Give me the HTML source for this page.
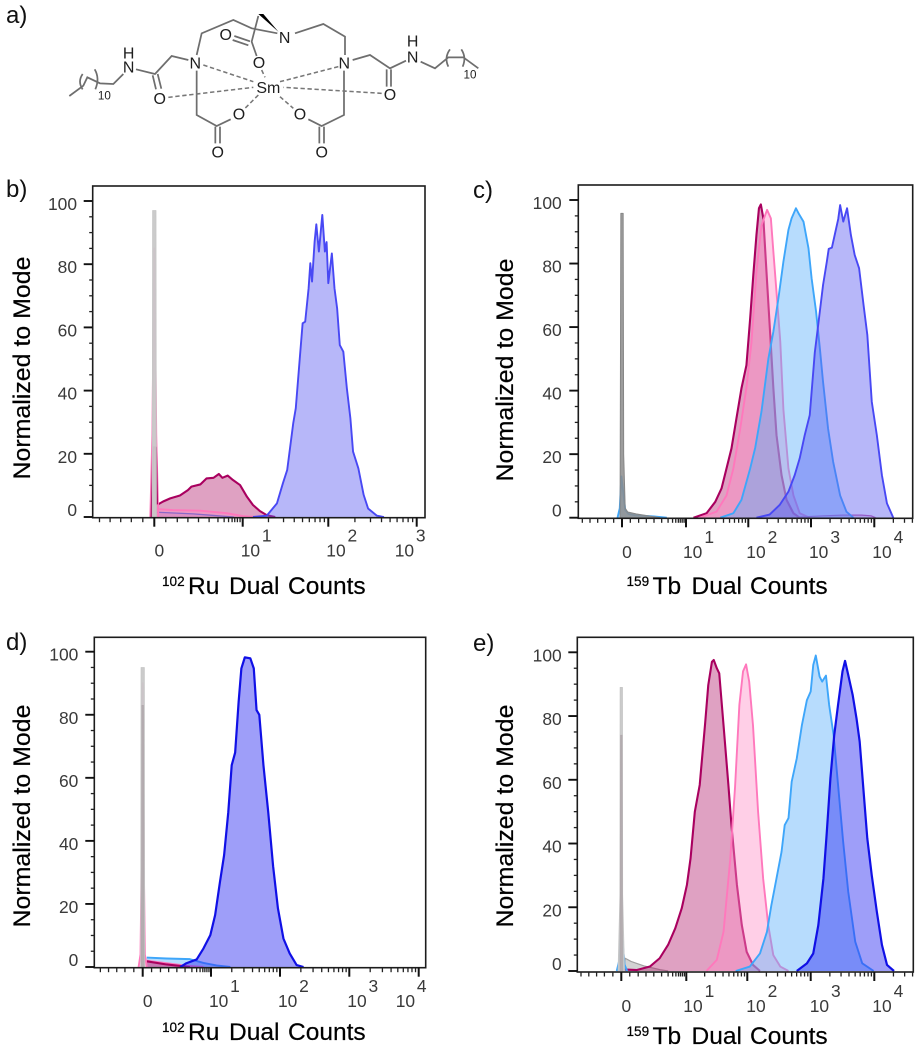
<!DOCTYPE html>
<html lang="en">
<head>
<meta charset="utf-8">
<title>Flow cytometry histograms</title>
<style>
html,body{margin:0;padding:0;background:#fff;width:921px;height:1050px;overflow:hidden}
#figure{display:block;filter:blur(.3px);font-family:"Liberation Sans",Arial,sans-serif}
.panel-letter{font-size:24px;fill:#111}
.axis-title{font-size:24.5px;fill:#000;stroke:#000;stroke-width:.2}
.sup-small{font-size:13.6px}
.tick-label{font-size:17.4px;fill:#3a3a3a}
.mol-bond{fill:none;stroke:#6e6e6e;stroke-width:5.2}
.mol-dash{fill:none;stroke:#777;stroke-width:4.6;stroke-dasharray:13 8}
.mol-atom{font-size:48px;fill:#1e1e1e;text-anchor:middle}
.mol-sub{font-size:35px;fill:#1e1e1e;text-anchor:middle}
</style>
</head>
<body>
<svg id="figure" xmlns="http://www.w3.org/2000/svg" width="921" height="1050" viewBox="0 0 921 1050">
  <rect x="0" y="0" width="921" height="1050" fill="#fff"/>

  <text class="panel-letter" x="6" y="23">a)</text>
  <text class="panel-letter" x="6" y="197">b)</text>
  <text class="panel-letter" x="473" y="198">c)</text>
  <text class="panel-letter" x="6" y="650">d)</text>
  <text class="panel-letter" x="473" y="651">e)</text>

  <g id="molecule" transform="scale(0.33333)">
    <polyline class="mol-bond" points="208,288 250,257 262,232 300,250 340,252 370,222"/>
    <path class="mol-bond" d="M248,222 Q232,245 248,268 M284,208 Q300,235 286,268"/>
    <polyline class="mol-bond" points="408,208 465,222 515,168 565,180"/>
    <path class="mol-bond" d="M458,226 L468,268 M473,222 L484,266"/>
    <polyline class="mol-bond" points="590,165 605,100 700,60 755,85 832,100"/>
    <polyline class="mol-bond" points="885,100 970,72 1035,110 1035,165"/>
    <polyline class="mol-bond" points="590,212 590,345 650,378 692,358"/>
    <path class="mol-bond" d="M646,380 L646,430 M660,380 L660,430"/>
    <polyline class="mol-bond" points="1032,212 1032,345 965,378 925,358"/>
    <path class="mol-bond" d="M958,380 L958,430 M972,380 L972,430"/>
    <path class="mol-bond" d="M775,48 L755,125 L770,168 M703,108 L750,124 M698,120 L745,136"/>
    <polygon points="775,42 790,42 836,96" fill="#000"/>
    <polyline class="mol-bond" points="1058,180 1110,165 1170,205 1218,182"/>
    <path class="mol-bond" d="M1160,208 L1160,260 M1173,208 L1173,260"/>
    <polyline class="mol-bond" points="1262,185 1305,205 1345,172 1390,172 1435,205"/>
    <path class="mol-bond" d="M1350,148 Q1332,172 1345,200 M1384,148 Q1400,172 1388,200"/>
    <path class="mol-dash" d="M610,195 L760,245 M1015,200 L840,245 M505,292 L760,262 M1145,280 L850,262 M775,285 L735,325 M840,290 L880,325 M785,210 L795,232"/>
    <text class="mol-atom" x="386" y="176">H</text>
    <text class="mol-atom" x="386" y="218">N</text>
    <text class="mol-atom" x="586" y="205">N</text>
    <text class="mol-atom" x="854" y="129">N</text>
    <text class="mol-atom" x="1033" y="205">N</text>
    <text class="mol-atom" x="1238" y="139">H</text>
    <text class="mol-atom" x="1238" y="187">N</text>
    <text class="mol-atom" x="677" y="120">O</text>
    <text class="mol-atom" x="777" y="204">O</text>
    <text class="mol-atom" x="479" y="312">O</text>
    <text class="mol-atom" x="1170" y="300">O</text>
    <text class="mol-atom" x="717" y="359">O</text>
    <text class="mol-atom" x="900" y="359">O</text>
    <text class="mol-atom" x="653" y="472">O</text>
    <text class="mol-atom" x="965" y="472">O</text>
    <text class="mol-atom" x="805" y="279">Sm</text>
    <text class="mol-sub" x="313" y="298">10</text>
    <text class="mol-sub" x="1410" y="235">10</text>
  </g>

  <g id="panel-b"></g>
  <g id="panel-c"></g>
  <g id="panel-d"></g>
  <g id="panel-e"></g>

  <text class="axis-title" transform="translate(30,368) rotate(-90)" text-anchor="middle" textLength="223" lengthAdjust="spacingAndGlyphs">Normalized to Mode</text>
  <text class="axis-title" transform="translate(513,370) rotate(-90)" text-anchor="middle" textLength="223" lengthAdjust="spacingAndGlyphs">Normalized to Mode</text>
  <text class="axis-title" transform="translate(30,816) rotate(-90)" text-anchor="middle" textLength="223" lengthAdjust="spacingAndGlyphs">Normalized to Mode</text>
  <text class="axis-title" transform="translate(513,816) rotate(-90)" text-anchor="middle" textLength="223" lengthAdjust="spacingAndGlyphs">Normalized to Mode</text>

  <text class="axis-title" y="594"><tspan class="sup-small" x="162" y="586">102</tspan><tspan x="188" y="594">Ru</tspan><tspan x="229" y="594">Dual</tspan><tspan x="288" y="594">Counts</tspan></text>
  <text class="axis-title" y="594"><tspan class="sup-small" x="626.5" y="586">159</tspan><tspan x="652.5" y="594">Tb</tspan><tspan x="691.5" y="594">Dual</tspan><tspan x="750" y="594">Counts</tspan></text>
  <text class="axis-title" y="1040"><tspan class="sup-small" x="162" y="1032">102</tspan><tspan x="188" y="1040">Ru</tspan><tspan x="229" y="1040">Dual</tspan><tspan x="288" y="1040">Counts</tspan></text>
  <text class="axis-title" y="1044"><tspan class="sup-small" x="626.5" y="1036">159</tspan><tspan x="652.5" y="1044">Tb</tspan><tspan x="691.5" y="1044">Dual</tspan><tspan x="750" y="1044">Counts</tspan></text>
</svg>

<script>
// Shared axis values
const yMajorValues = [0, 20, 40, 60, 80, 100];
const yMinorValues = [5, 10, 15, 25, 30, 35, 45, 50, 55, 65, 70, 75, 85, 90, 95];
const minorMultiples = [2, 3, 4, 5, 6, 7, 8, 9];
const linearRegionMinors = [0.13, 0.26, 0.38, 0.5, 0.62, 0.72, 0.79, 0.84, 0.88, 0.91, 0.94, 0.97];
const belowZeroMinors = [-0.13, -0.26, -0.38, -0.5, -0.62];

// Panel b: x values are log10(counts); y values are percent of mode
const bDecades = [0, 1, 2, 3];
const bCrimsonX = [0.03, 0.10, 0.18, 0.29, 0.38, 0.42, 0.52, 0.59, 0.67, 0.73, 0.77, 0.83, 0.89, 0.97, 1.05, 1.12, 1.20, 1.28, 1.38];
const bCrimsonY = [3.8, 4.9, 5.9, 6.8, 8.5, 9.6, 10.3, 12.2, 12.4, 13.6, 12.4, 13.1, 11.7, 10.1, 6.4, 3.8, 1.9, 0.6, 0];
const bPinkX = [0.03, 0.21, 0.52, 0.82, 1.0, 1.15];
const bPinkY = [2.5, 2.2, 2.0, 1.2, 0.3, 0];
const bVioletX = [0.03, 0.44, 0.67, 0.9];
const bVioletY = [1.5, 1.0, 0.5, 0];
const bBlueX = [1.12, 1.28, 1.40, 1.47, 1.52, 1.59, 1.62, 1.67, 1.70, 1.73, 1.77, 1.79, 1.81, 1.84, 1.86, 1.89, 1.93, 1.96, 1.98, 2.00, 2.04, 2.07, 2.10, 2.13, 2.17, 2.21, 2.25, 2.28, 2.34, 2.40, 2.45, 2.55, 2.63];
const bBlueY = [0, 0.4, 4.3, 10.7, 14.9, 29.6, 34.4, 51.3, 61.3, 61.8, 72.4, 80.3, 74.5, 87.1, 92.6, 84, 95.6, 84, 87, 74, 83.4, 72.4, 66, 54.4, 52.3, 40.7, 31.2, 20.7, 15.4, 7, 2.7, 0.4, 0];
const bSpikeBaseX = [-0.045, -0.022, 0, 0.022, 0.045];
const bSpikeBaseY = [0, 26, 85, 26, 0];
const bSpikeCrimsonX = [-0.03, -0.012, 0.018, 0.03];
const bSpikeCrimsonY = [0, 22, 22, 4];
const bSpikeGreyX = [-0.024, -0.019, 0.019, 0.024];
const bSpikeGreyY = [0, 97, 97, 0];

// Panel c
const cDecades = [0, 1, 2, 3, 4];
const cCrimsonX = [1.12, 1.33, 1.47, 1.57, 1.65, 1.73, 1.81, 1.89, 1.97, 2.03, 2.08, 2.13, 2.17, 2.20, 2.24, 2.29, 2.35, 2.40, 2.45, 2.53, 2.61, 2.72, 2.82];
const cCrimsonY = [0, 1.4, 5, 9.2, 15.5, 21.8, 31.3, 40.7, 48, 62.8, 76.4, 89, 97.4, 98.6, 94.2, 77.4, 57.5, 40.7, 26, 13.4, 5.6, 1.4, 0];
const cPinkX = [1.22, 1.49, 1.65, 1.76, 1.87, 1.97, 2.05, 2.13, 2.21, 2.27, 2.30, 2.36, 2.40, 2.45, 2.51, 2.56, 2.64, 2.72, 2.82, 2.98];
const cPinkY = [0, 1.9, 7, 15.5, 28, 41, 55, 77.4, 92, 95.3, 96.9, 94.2, 83.7, 71, 55.4, 34, 15.5, 7, 1.4, 0];
const cTailX = [2.8, 3.2, 3.5, 3.8, 3.95, 4.02];
const cTailY = [0.2, 0.6, 0.8, 0.8, 0.6, 0];
const cSkyX = [1.55, 1.76, 1.89, 2.03, 2.11, 2.21, 2.32, 2.40, 2.48, 2.56, 2.64, 2.69, 2.76, 2.81, 2.88, 2.96, 3.01, 3.08, 3.14, 3.19, 3.27, 3.35, 3.46, 3.56, 3.67];
const cSkyY = [0, 1.4, 5.6, 15.5, 22, 33.4, 50, 58.6, 69, 80.6, 90.6, 94.2, 97.4, 95.5, 93.2, 84.8, 75.3, 64.9, 53.3, 42.8, 28, 17.6, 7, 1.9, 0];
const cBlueX = [2.13, 2.34, 2.50, 2.64, 2.74, 2.82, 2.90, 2.98, 3.06, 3.12, 3.19, 3.25, 3.28, 3.33, 3.38, 3.43, 3.46, 3.51, 3.57, 3.63, 3.69, 3.76, 3.83, 3.89, 3.96, 4.04, 4.12, 4.20, 4.30];
const cBlueY = [0, 1, 4, 8.2, 13.4, 18.7, 26, 32.3, 52, 61.7, 73.2, 80.6, 84.6, 85, 89.5, 94, 98.4, 93.2, 97.4, 89, 82.7, 78.5, 67, 57.5, 36.5, 26, 13.4, 4.5, 0];
const cSpikeBaseX = [-0.07, -0.035, -0.01, 0.02, 0.05, 0.1, 0.2, 0.5, 0.7];
const cSpikeBaseY = [0, 3, 13, 8, 2.5, 1.2, 0.8, 0.4, 0];
const cSpikeGreyX = [-0.03, -0.018, 0.018, 0.026, 0.05, 0.09, 0.22, 0.4, 0.6];
const cSpikeGreyY = [0, 95.8, 95.8, 20, 3, 1.8, 1.2, 0.6, 0];

// Panel d
const dDecades = [0, 1, 2, 3, 4];
const dSkyX = [0.06, 0.35, 0.69, 0.89, 1.08, 1.28];
const dSkyY = [3, 2.7, 2.5, 1.3, 0.5, 0];
const dPinkX = [0.06, 0.35, 0.64, 0.89];
const dPinkY = [2, 1.2, 0.4, 0];
const dCrimsonX = [0.06, 0.35, 0.69];
const dCrimsonY = [1.8, 0.8, 0];
const dBlueX = [0.55, 0.64, 0.79, 0.89, 0.99, 1.06, 1.13, 1.19, 1.25, 1.30, 1.35, 1.40, 1.44, 1.49, 1.57, 1.62, 1.66, 1.70, 1.76, 1.83, 1.90, 1.97, 2.05, 2.14, 2.24, 2.34];
const dBlueY = [0, 1.2, 2.4, 5.9, 10.1, 16.5, 27, 35.5, 49, 64, 68, 84, 94.7, 98.2, 97.9, 94.7, 81.5, 80, 64, 49, 32, 18.6, 9, 4.3, 0.6, 0];
const dSpikeBaseX = [-0.06, -0.032, -0.02, 0, 0.02, 0.032, 0.06];
const dSpikeBaseY = [0, 4, 25, 90, 25, 4, 0];
const dSpikeGreyX = [-0.03, -0.024, 0.024, 0.03];
const dSpikeGreyY = [0, 95, 95, 0];
const dSpikeDarkX = [-0.02, -0.012, 0.012, 0.02];
const dSpikeDarkY = [0, 83, 83, 0];

// Panel e
const eDecades = [0, 1, 2, 3, 4];
const eGreyTailX = [0.03, 0.06, 0.15, 0.35, 0.6, 0.72];
const eGreyTailY = [0, 4, 3, 1.6, 0.4, 0];
const eCrimsonX = [0.03, 0.24, 0.44, 0.59, 0.72, 0.83, 0.93, 1.01, 1.07, 1.14, 1.22, 1.31, 1.36, 1.42, 1.45, 1.50, 1.54, 1.61, 1.69, 1.74, 1.83, 1.91, 1.99, 2.09, 2.20];
const eCrimsonY = [0.5, 0.3, 1.4, 4, 8.2, 13.4, 19.7, 27, 35.4, 50, 58.4, 78, 89.7, 97, 97.6, 95, 93.4, 77.2, 58.4, 45.8, 27, 14.4, 6, 1.9, 0];
const ePinkX = [1.33, 1.50, 1.61, 1.72, 1.80, 1.87, 1.93, 1.98, 2.03, 2.09, 2.17, 2.25, 2.33, 2.41, 2.52, 2.65];
const ePinkY = [0, 3.5, 12.3, 35, 58, 83.5, 94, 96.2, 90.8, 77, 50, 29, 14.4, 5, 1.4, 0];
const eSkyX = [1.81, 2.04, 2.20, 2.31, 2.38, 2.46, 2.54, 2.59, 2.65, 2.70, 2.78, 2.86, 2.94, 3.00, 3.04, 3.08, 3.14, 3.18, 3.24, 3.29, 3.36, 3.43, 3.51, 3.59, 3.70, 3.81, 3.99];
const eSkyY = [0, 1.4, 5.5, 12.3, 20.7, 29, 37.4, 45.8, 48, 59.4, 66.7, 77, 85, 87.7, 96, 99, 92.4, 90.8, 92.7, 83.5, 74, 58.4, 40.6, 24.9, 9.2, 2.4, 0];
const eBlueX = [2.78, 2.94, 3.04, 3.12, 3.20, 3.25, 3.31, 3.37, 3.43, 3.50, 3.54, 3.59, 3.66, 3.72, 3.77, 3.84, 3.89, 3.96, 4.04, 4.12, 4.20, 4.31];
const eBlueY = [0, 2.4, 5.5, 14.4, 29, 42.7, 60.5, 74, 83.5, 94, 97.3, 92.9, 86.6, 79.3, 72, 54.2, 41.6, 30, 18.6, 8.2, 1.9, 0];
const eSpikeSkyX = [-0.07, -0.035, -0.01, 0.02, 0.05, 0.09];
const eSpikeSkyY = [0, 3, 12, 9, 2, 0];
const eSpikeDarkX = [-0.02, -0.012, 0.012, 0.02];
const eSpikeDarkY = [0, 74, 74, 0];
const eSpikeGreyX = [-0.05, -0.021, -0.018, 0.018, 0.021, 0.05];
const eSpikeGreyY = [0, 24, 89, 89, 24, 0];

// Series palette and panel layout (pixels live here, never in the data arrays above)
const palette = {
  crimson: {stroke: '#a9005f', fill: '#b3206e', op: .42, w: 2.1},
  pink: {stroke: '#ff78bc', fill: '#ff8cc6', op: .42, w: 1.9},
  sky: {stroke: '#3ea6fa', fill: '#5cb0fb', op: .44, w: 1.9},
  blue: {stroke: '#4848f4', fill: '#5a5cf2', op: .44, w: 1.9},
  deep: {stroke: '#1010e6', fill: '#3434f2', op: .48, w: 2.2},
  violet: {stroke: '#8a68c8', fill: '#8a68c8', op: .15, w: 1.3},
  tail: {stroke: '#c45aa6', fill: '#c45aa6', op: .25, w: 1.2},
  greyLight: {stroke: '#c6c6c6', fill: '#c8c8c8', op: .95, w: .8},
  greyDark: {stroke: '#868686', fill: '#8c8c8c', op: .85, w: 1},
  greyTail: {stroke: '#a0a0a0', fill: '#a8a8a8', op: .5, w: 1.2},
  greyMid: {stroke: '#b0a8ac', fill: '#b0a8ac', op: .85, w: .6}
};

const panelB = {id: 'b', left: 92.7, right: 425, top: 186, bottom: 517.7, zeroY: 517, hundredY: 201,
  decadePx: [154.3, 242.7, 328.3, 416.7], labelRight: 77, labelBase: 556.7, zeroNudge: 5,
  labelNudge: [-2, -2, -22], supGap: 1.8};
const panelC = {id: 'c', left: 578.3, right: 912.7, top: 185, bottom: 518.3, zeroY: 517.7, hundredY: 200,
  decadePx: [622, 686, 748.3, 811, 874.3], labelRight: 561.7, labelBase: 558, zeroNudge: 5,
  labelNudge: [-3, -2, -2, -2], supGap: 2};
const panelD = {id: 'd', left: 94.3, right: 425.7, top: 637.3, bottom: 967.7, zeroY: 967, hundredY: 651.7,
  decadePx: [142.7, 211, 280, 349.3, 418.7], labelRight: 78.3, labelBase: 1007, zeroNudge: 5,
  labelNudge: [-2, -2, -2, -23], supGap: 1.8};
const panelE = {id: 'e', left: 577.3, right: 913.3, top: 637.3, bottom: 972, zeroY: 971, hundredY: 652.3,
  decadePx: [621.3, 686.3, 747.3, 810.7, 874.3], labelRight: 561.7, labelBase: 1012, zeroNudge: 5,
  labelNudge: [-3, -1, -1, -2], supGap: 2};

const SVG_NS = 'http://www.w3.org/2000/svg';

function xScale(p, t) {
  const d = p.decadePx;
  const i = Math.max(0, Math.min(d.length - 2, t < 0 ? 0 : Math.floor(t)));
  return d[i] + (t - i) * (d[i + 1] - d[i]);
}
function yScale(p, v) {
  return p.zeroY + (p.hundredY - p.zeroY) * v / 100;
}
function make(tag, parent, attrs) {
  const el = document.createElementNS(SVG_NS, tag);
  for (const k in attrs) el.setAttribute(k, attrs[k]);
  parent.appendChild(el);
  return el;
}
function drawSeries(p, group, xs, ys, colorKey, label) {
  const c = palette[colorKey];
  const pts = xs.map(function (x, i) { return xScale(p, x).toFixed(2) + ',' + yScale(p, ys[i]).toFixed(2); });
  const first = xScale(p, xs[0]).toFixed(2) + ',' + p.zeroY;
  const last = xScale(p, xs[xs.length - 1]).toFixed(2) + ',' + p.zeroY;
  const area = make('polygon', group, {points: first + ' ' + pts.join(' ') + ' ' + last, fill: c.fill, 'fill-opacity': c.op, stroke: 'none'});
  
  
  const line = make('polyline', group, {points: pts.join(' '), fill: 'none', stroke: c.stroke, 'stroke-width': c.w, 'stroke-linejoin': 'round'});
  
  
}
function drawAxes(p, group, decades) {
  const frame = make('rect', group, {x: p.left, y: p.top, width: p.right - p.left, height: p.bottom - p.top, fill: 'none', stroke: '#1c1c1c', 'stroke-width': 1.6});
  
  

  yMinorValues.forEach(function (v) {
    const t = make('line', group, {x1: p.left - 3.5, x2: p.left, y1: yScale(p, v), y2: yScale(p, v), stroke: '#222', 'stroke-width': 1.3});
    
    
  });
  yMajorValues.forEach(function (v) {
    const y = yScale(p, v);
    const t = make('line', group, {x1: p.left - 9, x2: p.left, y1: y, y2: y, stroke: '#111', 'stroke-width': 1.9});
    
    
    const lab = make('text', group, {x: p.labelRight, y: y + (v === 0 ? -1 : 9), 'text-anchor': 'end', class: 'tick-label'});
    
    
    lab.textContent = String(v);
  });

  const minors = belowZeroMinors.concat(linearRegionMinors);
  decades.forEach(function (d) {
    if (d > 0) minorMultiples.forEach(function (m) { minors.push(d + Math.log10(m)); });
  });
  minors.forEach(function (t) {
    const x = xScale(p, t);
    if (x <= p.left || x >= p.right) return;
    const tick = make('line', group, {x1: x, x2: x, y1: p.bottom, y2: p.bottom + 4.5, stroke: '#222', 'stroke-width': 1.3});
    
    
  });
  decades.forEach(function (d) {
    const x = xScale(p, d);
    const tick = make('line', group, {x1: x, x2: x, y1: p.bottom, y2: p.bottom + 9, stroke: '#111', 'stroke-width': 2});
    
    
    const lab = make('text', group, {class: 'tick-label', y: p.labelBase});
    
    
    if (d === 0) {
      lab.setAttribute('x', x + p.zeroNudge);
      lab.setAttribute('text-anchor', 'middle');
      lab.textContent = '0';
    } else {
      lab.setAttribute('x', x + p.labelNudge[d - 1]);
      const base = make('tspan', lab, {});
      base.textContent = '10';
      const sup = make('tspan', lab, {dx: p.supGap, dy: -15});
      sup.textContent = String(d);
    }
  });
}

const groupB = document.getElementById('panel-b');
drawSeries(panelB, groupB, bCrimsonX, bCrimsonY, 'crimson', 'crimson-b');
drawSeries(panelB, groupB, bPinkX, bPinkY, 'pink', 'pink-b');
drawSeries(panelB, groupB, bVioletX, bVioletY, 'violet', 'violet-b');
drawSeries(panelB, groupB, bBlueX, bBlueY, 'blue', 'blue-b');
drawSeries(panelB, groupB, bSpikeBaseX, bSpikeBaseY, 'pink', 'zero-spike-pink-b');
drawSeries(panelB, groupB, bSpikeCrimsonX, bSpikeCrimsonY, 'crimson', 'zero-spike-crimson-b');
drawSeries(panelB, groupB, bSpikeGreyX, bSpikeGreyY, 'greyLight', 'zero-spike-grey-b');
drawAxes(panelB, groupB, bDecades);

const groupC = document.getElementById('panel-c');
drawSeries(panelC, groupC, cCrimsonX, cCrimsonY, 'crimson', 'crimson-c');
drawSeries(panelC, groupC, cPinkX, cPinkY, 'pink', 'pink-c');
drawSeries(panelC, groupC, cTailX, cTailY, 'tail', 'tail-c');
drawSeries(panelC, groupC, cSkyX, cSkyY, 'sky', 'sky-c');
drawSeries(panelC, groupC, cBlueX, cBlueY, 'blue', 'blue-c');
drawSeries(panelC, groupC, cSpikeBaseX, cSpikeBaseY, 'sky', 'zero-spike-sky-c');
drawSeries(panelC, groupC, cSpikeGreyX, cSpikeGreyY, 'greyDark', 'zero-spike-grey-c');
drawAxes(panelC, groupC, cDecades);

const groupD = document.getElementById('panel-d');
drawSeries(panelD, groupD, dSkyX, dSkyY, 'sky', 'sky-d');
drawSeries(panelD, groupD, dPinkX, dPinkY, 'pink', 'pink-d');
drawSeries(panelD, groupD, dCrimsonX, dCrimsonY, 'crimson', 'crimson-d');
drawSeries(panelD, groupD, dBlueX, dBlueY, 'deep', 'blue-d');
drawSeries(panelD, groupD, dSpikeBaseX, dSpikeBaseY, 'pink', 'zero-spike-pink-d');
drawSeries(panelD, groupD, dSpikeGreyX, dSpikeGreyY, 'greyLight', 'zero-spike-grey-d');
drawSeries(panelD, groupD, dSpikeDarkX, dSpikeDarkY, 'greyMid', 'zero-spike-dark-d');
drawAxes(panelD, groupD, dDecades);

const groupE = document.getElementById('panel-e');
drawSeries(panelE, groupE, eGreyTailX, eGreyTailY, 'greyTail', 'grey-tail-e');
drawSeries(panelE, groupE, eCrimsonX, eCrimsonY, 'crimson', 'crimson-e');
drawSeries(panelE, groupE, ePinkX, ePinkY, 'pink', 'pink-e');
drawSeries(panelE, groupE, eSkyX, eSkyY, 'sky', 'sky-e');
drawSeries(panelE, groupE, eBlueX, eBlueY, 'deep', 'blue-e');
drawSeries(panelE, groupE, eSpikeSkyX, eSpikeSkyY, 'sky', 'zero-spike-sky-e');
drawSeries(panelE, groupE, eSpikeGreyX, eSpikeGreyY, 'greyLight', 'zero-spike-grey-e');
drawSeries(panelE, groupE, eSpikeDarkX, eSpikeDarkY, 'greyMid', 'zero-spike-dark-e');
drawAxes(panelE, groupE, eDecades);
</script>
</body>
</html>
